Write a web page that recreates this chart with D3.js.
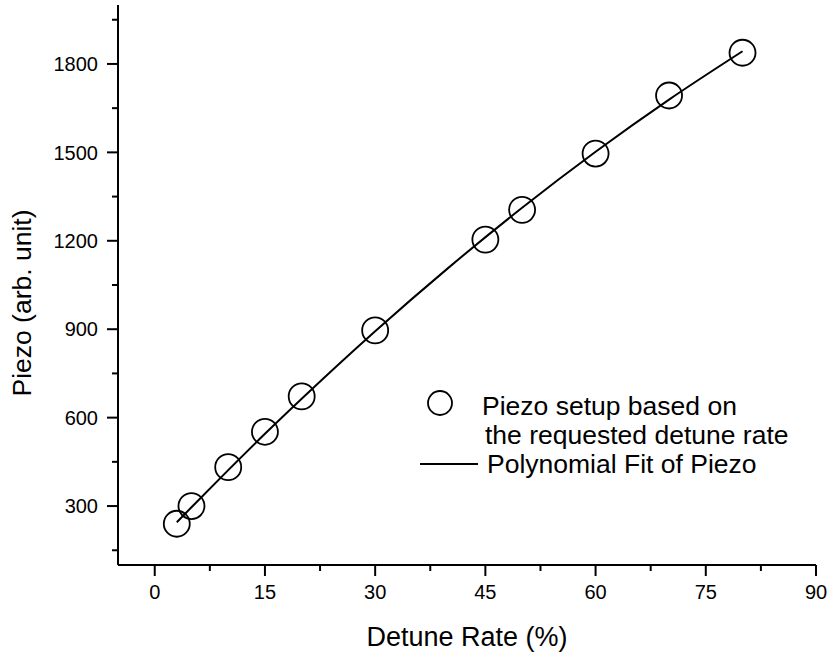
<!DOCTYPE html>
<html>
<head>
<meta charset="utf-8">
<script src="https://cdn.jsdelivr.net/npm/d3@7"></script>
<style>
  html, body { margin: 0; padding: 0; background: #fff; }
  svg { display: block; font-family: "Liberation Sans", Arial, sans-serif; }
</style>
</head>
<body>
<div id="chart"></div>
<script>
// measured points (Detune Rate %, Piezo)
const detuneRate = [3, 5, 10, 15, 20, 30, 45, 50, 60, 70, 80];
const piezo = [240, 300, 432, 552, 672, 896, 1204, 1305, 1496, 1693, 1838];

// polynomial fit curve
const fitX = [3, 5, 10, 15, 20, 30, 40, 50, 60, 70, 80];
const fitY = [245, 296, 422, 545, 664, 893, 1109, 1312, 1502, 1679, 1843];

const xTicks = [0, 15, 30, 45, 60, 75, 90];
const xMinor = [7.5, 22.5, 37.5, 52.5, 67.5, 82.5];
const yTicks = [300, 600, 900, 1200, 1500, 1800];
const yMinor = [150, 450, 750, 1050, 1350, 1650, 1950];

const width = 831, height = 655;

const svg = d3.select("#chart").append("svg")
  .attr("width", width)
  .attr("height", height);

const x = d3.scaleLinear().domain([-5, 90]).range([118, 816]);
const y = d3.scaleLinear().domain([100, 2000]).range([565, 5]);

// ---- axes ----
const gx = svg.append("g").attr("transform", `translate(0,${y(100)})`);
gx.append("line")
  .attr("x1", x(-5)).attr("x2", x(90))
  .attr("stroke", "#000").attr("stroke-width", 2);
gx.selectAll("line.major").data(xTicks).join("line")
  .attr("class", "major")
  .attr("x1", d => x(d)).attr("x2", d => x(d))
  .attr("y1", 0).attr("y2", 11)
  .attr("stroke", "#000").attr("stroke-width", 2);
gx.selectAll("line.minor").data(xMinor).join("line")
  .attr("class", "minor")
  .attr("x1", d => x(d)).attr("x2", d => x(d))
  .attr("y1", 0).attr("y2", 6)
  .attr("stroke", "#000").attr("stroke-width", 2);
gx.selectAll("text").data(xTicks).join("text")
  .attr("x", d => x(d))
  .attr("y", 34)
  .attr("text-anchor", "middle")
  .attr("font-size", 20)
  .text(d => d);

const gy = svg.append("g").attr("transform", `translate(${x(-5)},0)`);
gy.append("line")
  .attr("y1", y(100)).attr("y2", y(2000))
  .attr("stroke", "#000").attr("stroke-width", 2);
gy.selectAll("line.major").data(yTicks).join("line")
  .attr("class", "major")
  .attr("y1", d => y(d)).attr("y2", d => y(d))
  .attr("x1", 0).attr("x2", -11)
  .attr("stroke", "#000").attr("stroke-width", 2);
gy.selectAll("line.minor").data(yMinor).join("line")
  .attr("class", "minor")
  .attr("y1", d => y(d)).attr("y2", d => y(d))
  .attr("x1", 0).attr("x2", -6)
  .attr("stroke", "#000").attr("stroke-width", 2);
gy.selectAll("text").data(yTicks).join("text")
  .attr("x", -20)
  .attr("y", d => y(d))
  .attr("dy", "0.36em")
  .attr("text-anchor", "end")
  .attr("font-size", 20)
  .text(d => d);

// axis titles
svg.append("text")
  .attr("x", (x(-5) + x(90)) / 2)
  .attr("y", 646)
  .attr("text-anchor", "middle")
  .attr("font-size", 27)
  .text("Detune Rate (%)");

svg.append("text")
  .attr("transform", `translate(31,${(y(100) + y(2000)) / 2 + 18}) rotate(-90)`)
  .attr("text-anchor", "middle")
  .attr("font-size", 26.5)
  .text("Piezo (arb. unit)");

// ---- fit line ----
const line = d3.line()
  .x(d => x(d[0]))
  .y(d => y(d[1]))
  .curve(d3.curveMonotoneX);

svg.append("path")
  .datum(fitX.map((v, i) => [v, fitY[i]]))
  .attr("d", line)
  .attr("fill", "none")
  .attr("stroke", "#000")
  .attr("stroke-width", 2);

// ---- data points ----
svg.selectAll("circle.pt")
  .data(detuneRate.map((v, i) => [v, piezo[i]]))
  .join("circle")
  .attr("class", "pt")
  .attr("cx", d => x(d[0]))
  .attr("cy", d => y(d[1]))
  .attr("r", 13)
  .attr("fill", "none")
  .attr("stroke", "#000")
  .attr("stroke-width", 1.8);

// ---- legend ----
const legend = svg.append("g");
legend.append("circle")
  .attr("cx", 440).attr("cy", 403).attr("r", 12)
  .attr("fill", "none").attr("stroke", "#000").attr("stroke-width", 1.8);
legend.append("text")
  .attr("x", 482).attr("y", 415)
  .attr("font-size", 26.5)
  .text("Piezo setup based on");
legend.append("text")
  .attr("x", 485).attr("y", 444)
  .attr("font-size", 26.5)
  .text("the requested detune rate");
legend.append("line")
  .attr("x1", 420).attr("x2", 478)
  .attr("y1", 464).attr("y2", 464)
  .attr("stroke", "#000").attr("stroke-width", 2);
legend.append("text")
  .attr("x", 487).attr("y", 473)
  .attr("font-size", 26.5)
  .text("Polynomial Fit of Piezo");
</script>
</body>
</html>
